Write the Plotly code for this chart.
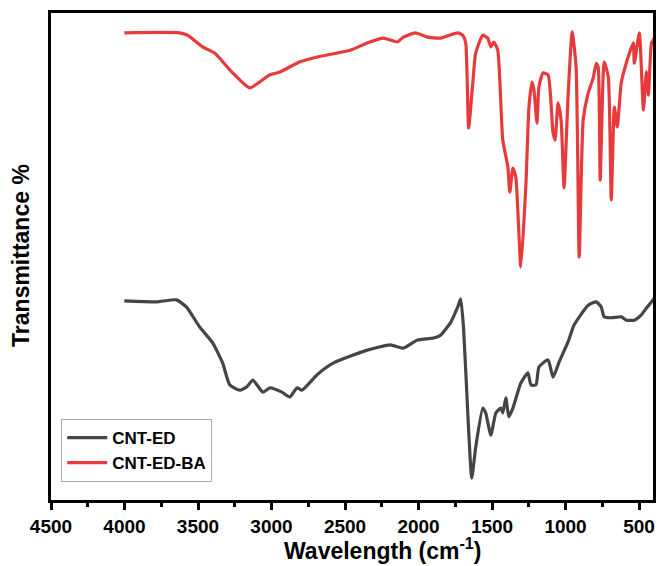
import plotly.graph_objects as go

# CNT-ED-BA (red)
wn_ba = [4001, 3626, 3571, 3469, 3387, 3264, 3148, 3011, 2943, 2806, 2690, 2465, 2349, 2239, 2144, 2103,
         2021, 1939, 1850, 1734, 1700, 1679, 1659, 1631, 1611, 1563, 1529, 1508, 1488, 1461, 1427, 1392,
         1379, 1358, 1338, 1304, 1269, 1249, 1228, 1215, 1194, 1181, 1153, 1119, 1085, 1071, 1051, 1030,
         1010, 983, 955, 928, 907, 880, 846, 812, 791, 778, 764, 737, 709, 689, 668, 648, 621, 587, 539,
         532, 498, 470, 450, 436, 415, 395]
t_ba = [95.9, 95.9, 95.4, 93.0, 91.7, 87.6, 84.5, 87.2, 87.8, 89.9, 90.9, 92.3, 93.8, 94.8, 94.0, 95.0,
        95.9, 95.0, 94.8, 95.9, 95.4, 93.8, 76.2, 85.5, 91.7, 95.4, 94.8, 93.0, 94.0, 92.3, 73.7, 68.1,
        62.9, 67.9, 66.0, 47.4, 64.8, 80.5, 85.7, 84.1, 77.2, 84.7, 87.6, 87.2, 75.2, 73.7, 81.4, 77.8,
        63.8, 82.6, 96.1, 88.8, 49.5, 77.8, 83.4, 86.5, 89.6, 88.8, 65.4, 89.9, 86.7, 61.3, 80.5, 76.4,
        85.5, 89.6, 93.8, 89.6, 95.9, 79.9, 87.8, 83.0, 93.8, 94.8]

# CNT-ED (dark grey)
wn_ed = [4001, 3783, 3646, 3578, 3489, 3400, 3332, 3284, 3216, 3168, 3127, 3059, 3011, 2929, 2875, 2827,
         2793, 2690, 2581, 2349, 2192, 2103, 2007, 1898, 1850, 1782, 1734, 1713, 1693, 1665, 1638, 1611,
         1563, 1543, 1508, 1474, 1440, 1427, 1406, 1386, 1358, 1304, 1256, 1235, 1201, 1181, 1119, 1085,
         1044, 983, 942, 846, 791, 757, 737, 689, 621, 587, 532, 484, 450, 415, 395]
t_ed = [40.4, 40.2, 40.6, 39.1, 35.0, 31.7, 27.5, 23.0, 21.9, 22.6, 24.0, 21.5, 22.4, 21.5, 20.5, 22.4,
        21.9, 25.1, 27.5, 30.2, 31.3, 30.6, 32.3, 32.7, 33.3, 35.9, 39.1, 40.8, 34.4, 17.2, 3.7, 10.1,
        18.2, 17.2, 12.6, 17.2, 18.2, 17.2, 20.3, 16.4, 18.2, 23.4, 25.5, 23.0, 23.0, 26.7, 28.2, 24.6,
        27.7, 31.9, 35.4, 39.5, 40.2, 39.1, 37.1, 36.9, 37.1, 36.4, 36.4, 37.5, 38.9, 40.2, 41.0]

tick_vals = [4500, 4000, 3500, 3000, 2500, 2000, 1500, 1000, 500]
tick_text = [str(v) for v in tick_vals]

FONT = "Arial, Liberation Sans, sans-serif"

fig = go.Figure()
fig.add_trace(go.Scatter(x=wn_ed, y=t_ed, mode="lines", name="CNT-ED",
                         line=dict(color="#454545", width=3.2, shape="spline", smoothing=0.5)))
fig.add_trace(go.Scatter(x=wn_ba, y=t_ba, mode="lines", name="CNT-ED-BA",
                         line=dict(color="#e83a3a", width=3.2, shape="spline", smoothing=0.5)))

fig.update_layout(
    width=657, height=566,
    margin=dict(l=51, r=4, t=13, b=66),
    plot_bgcolor="white", paper_bgcolor="white",
    font=dict(family=FONT, color="black"),
    showlegend=True,
    legend=dict(x=0.017, y=0.037, xanchor="left", yanchor="bottom",
                bordercolor="#aaaaaa", borderwidth=1, bgcolor="white",
                font=dict(size=17, family=FONT, weight="bold", color="black"),
                tracegroupgap=0, itemwidth=40),
    xaxis=dict(range=[4500, 405], tickvals=tick_vals, ticktext=tick_text,
               ticks="outside", ticklen=7, tickwidth=2.5, tickcolor="black",
               minor=dict(ticks="outside", ticklen=4, tickwidth=2.5, tickcolor="black", dtick=250, tick0=0),
               showline=True, linecolor="black", linewidth=2.5, mirror=True,
               showgrid=False, zeroline=False, automargin=False,
               tickfont=dict(size=19, family=FONT, weight="bold", color="black")),
    yaxis=dict(range=[-0.83, 100], showticklabels=False, ticks="",
               showline=True, linecolor="black", linewidth=2.5, mirror=True,
               showgrid=False, zeroline=False, automargin=False),
    annotations=[
        dict(text="Wavelength (cm<sup>-1</sup>)", xref="paper", yref="paper",
             x=0.552, y=-0.101, xanchor="center", yanchor="middle", showarrow=False,
             font=dict(size=23, family=FONT, weight="bold", color="black")),
        dict(text="Transmittance %", xref="paper", yref="paper", textangle=-90,
             x=-0.050, y=0.503, xanchor="center", yanchor="middle", showarrow=False,
             font=dict(size=23, family=FONT, weight="bold", color="black")),
    ],
)

fig.write_html("out.html", config={"displayModeBar": False},
               post_script="document.body.style.margin='0';document.body.style.overflow='hidden';")
